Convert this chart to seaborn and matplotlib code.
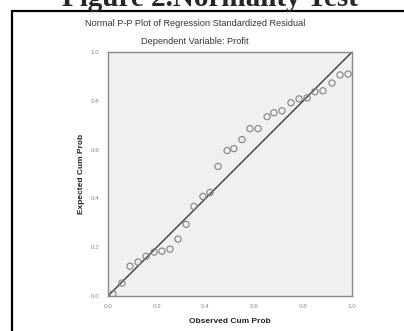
import matplotlib
matplotlib.use("Agg")
import matplotlib.pyplot as plt
import matplotlib.patches as patches
import seaborn as sns
import pandas as pd

# values
observed = [0.020, 0.057, 0.090, 0.123, 0.156, 0.189, 0.221, 0.254, 0.287, 0.320,
            0.352, 0.389, 0.418, 0.451, 0.488, 0.516, 0.549, 0.582, 0.615, 0.652,
            0.680, 0.713, 0.750, 0.783, 0.816, 0.848, 0.881, 0.918, 0.951, 0.984]
expected = [0.008, 0.053, 0.122, 0.139, 0.163, 0.180, 0.184, 0.192, 0.233, 0.294,
            0.367, 0.408, 0.424, 0.531, 0.596, 0.604, 0.641, 0.686, 0.686, 0.735,
            0.751, 0.759, 0.792, 0.808, 0.812, 0.837, 0.841, 0.873, 0.906, 0.910]
ref_line = [0.0, 1.0]
ticks = [0.0, 0.2, 0.4, 0.6, 0.8, 1.0]
tick_labels = ["0.0", "0.2", "0.4", "0.6", "0.8", "1.0"]

df = pd.DataFrame({"Observed Cum Prob": observed, "Expected Cum Prob": expected})

sns.set_style("white")
plt.rcParams["font.family"] = ["Liberation Sans", "DejaVu Sans"]

fig = plt.figure(figsize=(4.04, 3.31), dpi=100, facecolor="white")

# document frame around the chart
fig.patches.append(patches.Rectangle((12 / 404, -0.05), 1.2, 1 - 11 / 331 + 0.05,
                                     transform=fig.transFigure, fill=False,
                                     edgecolor="black", linewidth=1.6))

# figure caption, cut off by the top edge as in the source page
fig.text(210 / 404, 1 - 6 / 331, "Figure 2.Normality Test", ha="center", va="baseline",
         fontsize=21, fontweight="bold", family=["Liberation Serif", "DejaVu Serif"])

ax = fig.add_axes([108 / 404, 1 - 296 / 331, 244 / 404, 244 / 331])
ax.set_facecolor("#f0f0f0")

sns.lineplot(x=ref_line, y=ref_line, ax=ax, color="#3a3a3a", linewidth=1.0)
sns.scatterplot(data=df, x="Observed Cum Prob", y="Expected Cum Prob", ax=ax,
                marker="o", s=20, facecolor="none", edgecolor="#808080",
                linewidth=0.8, zorder=3)

ax.set_xlim(0, 1)
ax.set_ylim(0, 1)
ax.set_xticks(ticks)
ax.set_yticks(ticks)
ax.set_xticklabels(tick_labels)
ax.set_yticklabels(tick_labels)
ax.tick_params(direction="out", length=4, width=0.8, colors="#888888",
               labelsize=4.5, labelcolor="#888888", pad=2)
for spine in ax.spines.values():
    spine.set_edgecolor("#888888")
    spine.set_linewidth(1.0)

ax.set_xlabel("Observed Cum Prob", fontsize=6, fontweight="bold", color="#222222",
              labelpad=6)
ax.set_ylabel("Expected Cum Prob", fontsize=6, fontweight="bold", color="#222222",
              labelpad=4)

fig.text(195 / 404, 1 - 23 / 331, "Normal P-P Plot of Regression Standardized Residual",
         ha="center", va="center", fontsize=6.6, color="#333333")
fig.text(195 / 404, 1 - 42 / 331, "Dependent Variable: Profit",
         ha="center", va="center", fontsize=6.6, color="#333333")

fig.savefig("out.png", dpi=100, facecolor="white")
